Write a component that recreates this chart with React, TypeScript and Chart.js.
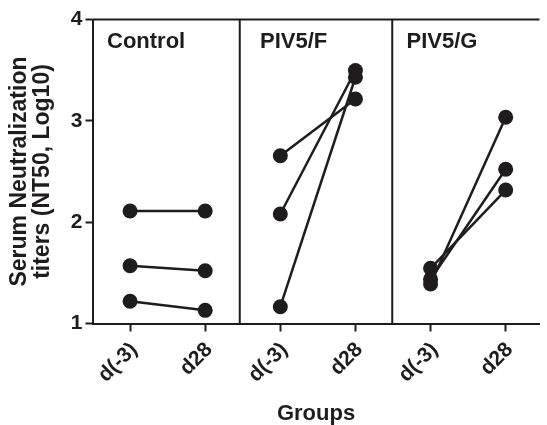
import React, { useEffect, useRef } from 'react';
import { Chart, registerables } from 'chart.js';

Chart.register(...registerables);

// ---- data ----
const xLabels = ['d(-3)', 'd28', 'd(-3)', 'd28', 'd(-3)', 'd28'];
const groups = ['Control', 'PIV5/F', 'PIV5/G'];
const controlBefore = [2.11, 1.57, 1.22];
const controlAfter = [2.11, 1.52, 1.13];
const piv5fBefore = [2.656, 2.081, 1.166];
const piv5fAfter = [3.216, 3.497, 3.43];
const piv5gBefore = [1.545, 1.436, 1.39];
const piv5gAfter = [2.317, 2.522, 3.035];
const yTicks = [1, 2, 3, 4];

// ---- layout constants (x in axis units) ----
const panelDividers = [1.46, 3.49];
const panelLabelX = [-0.307, 1.73, 3.68];

const INK = '#1e1c1d';
const FONT = '"Liberation Sans", Arial, Helvetica, sans-serif';

const befores = [controlBefore, piv5fBefore, piv5gBefore];
const afters = [controlAfter, piv5fAfter, piv5gAfter];

function buildDatasets() {
  const ds: any[] = [];
  befores.forEach((arr, gi) => {
    arr.forEach((v, si) => {
      ds.push({
        label: groups[gi] + ' ' + (si + 1),
        data: [
          { x: gi * 2, y: v },
          { x: gi * 2 + 1, y: afters[gi][si] },
        ],
        borderColor: INK,
        backgroundColor: INK,
        borderWidth: 2.5,
        pointRadius: 7.5,
        pointBorderWidth: 0,
        pointBackgroundColor: INK,
        showLine: true,
        clip: false,
      });
    });
  });
  return ds;
}

const framePlugin = {
  id: 'panelFrame',
  beforeDatasetsDraw(chart: any) {
    const { ctx, chartArea, scales } = chart;
    const xs = scales.x;
    ctx.save();
    ctx.strokeStyle = INK;
    ctx.lineWidth = 2;
    ctx.beginPath();
    ctx.moveTo(chartArea.left, chartArea.top);
    ctx.lineTo(chartArea.right, chartArea.top);
    panelDividers.forEach((d) => {
      const px = xs.getPixelForValue(d);
      ctx.moveTo(px, chartArea.top);
      ctx.lineTo(px, chartArea.bottom);
    });
    ctx.stroke();
    ctx.fillStyle = INK;
    ctx.font = 'bold 22px ' + FONT;
    ctx.textAlign = 'left';
    ctx.textBaseline = 'alphabetic';
    groups.forEach((g, i) => {
      ctx.fillText(g, xs.getPixelForValue(panelLabelX[i]), chartArea.top + 28);
    });
    ctx.restore();
  },
};

export default function App() {
  const ref = useRef<HTMLCanvasElement | null>(null);
  useEffect(() => {
    if (!ref.current) return;
    const chart = new Chart(ref.current, {
      type: 'line',
      data: { datasets: buildDatasets() },
      options: {
        animation: false,
        responsive: false,
        devicePixelRatio: 1,
        layout: { padding: { top: 19.5, right: 0, left: 0, bottom: 0 } },
        plugins: { legend: { display: false }, tooltip: { enabled: false } },
        scales: {
          x: {
            type: 'linear',
            min: -0.5,
            max: 5.45,
            afterBuildTicks: (s: any) => {
              s.ticks = xLabels.map((_, i) => ({ value: i }));
            },
            afterFit: (s: any) => {
              s.height = 101.5;
            },
            ticks: {
              autoSkip: false,
              maxRotation: 45,
              minRotation: 45,
              color: INK,
              padding: 6,
              labelOffset: 4,
              font: { family: FONT, size: 21, weight: 'bold' },
              callback: (_v: any, i: number) => xLabels[i],
            },
            grid: { drawOnChartArea: false, tickLength: 8, tickWidth: 2, tickColor: INK },
            border: { display: true, width: 2, color: INK },
            title: {
              display: true,
              text: 'Groups',
              color: INK,
              font: { family: FONT, size: 22, weight: 'bold', lineHeight: 1 },
              padding: { top: 0, bottom: 0 },
            },
          },
          y: {
            type: 'linear',
            min: 1,
            max: 4,
            afterBuildTicks: (s: any) => {
              s.ticks = yTicks.map((v) => ({ value: v }));
            },
            afterFit: (s: any) => {
              s.width = 92.5;
            },
            ticks: {
              color: INK,
              padding: 3,
              font: { family: FONT, size: 21, weight: 'bold' },
            },
            grid: { drawOnChartArea: false, tickLength: 7, tickWidth: 2, tickColor: INK },
            border: { display: true, width: 2, color: INK },
            title: {
              display: true,
              text: ['Serum Neutralization', 'titers (NT50, Log10)'],
              color: INK,
              font: { family: FONT, size: 23, weight: 'bold', lineHeight: 1.0 },
              padding: { top: 8.5, bottom: 0 },
            },
          },
        },
      } as any,
      plugins: [framePlugin],
    });
    return () => chart.destroy();
  }, []);
  return (
    <div style={{ position: 'fixed', left: 0, top: 0, width: 547, height: 425, background: '#fff' }}>
      <canvas ref={ref} width={547} height={425} style={{ display: 'block' }} />
    </div>
  );
}
